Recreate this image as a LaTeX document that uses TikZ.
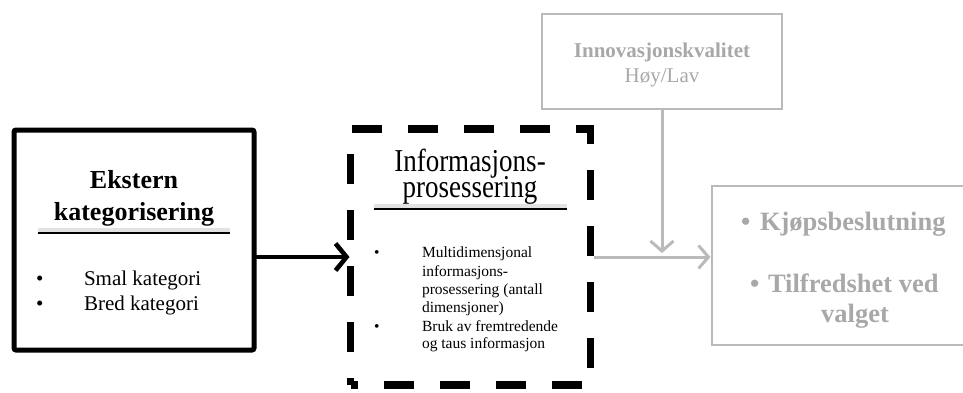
\documentclass[tikz,border=0pt]{standalone}
\usepackage{fontspec}
\setmainfont{Liberation Serif}
\usetikzlibrary{arrows.meta}
\definecolor{paleline}{RGB}{186,186,186}
\definecolor{paletext}{RGB}{168,168,168}
\tikzset{
  boxshape/.style={rectangle, inner sep=0pt, outer sep=0pt},
  solidbox/.style={boxshape, draw=black, line width=5pt, rounded corners=2pt},
  palebox/.style={boxshape, draw=paleline, line width=2.6pt},
  dashframe/.style={draw=black, line width=7.5pt, line join=miter,
    dash pattern=on 30pt off 26pt, dash phase=23pt},
  txt/.style={inner sep=0pt, outer sep=0pt, anchor=base},
  leftt/.style={txt, anchor=base west},
  rule/.style={line width=2pt},
  ruleshadow/.style={line width=4pt, draw=black!25, opacity=0.45},
  mainarrow/.style={line width=4.6pt, -{Straight Barb[length=11pt,width=27pt]}},
  palearrow/.style={draw=paleline, line width=3pt, -{Straight Barb[length=10pt,width=23pt]}},
}
\begin{document}
\begin{tikzpicture}[x=1pt,y=-1pt]
\useasboundingbox (0,0) rectangle (963,392);
\clip (0,0) rectangle (963,392);

% boxes
\node[solidbox, minimum width=240pt, minimum height=220pt] (ext) at (134,240) {};
\node[boxshape, minimum width=240pt, minimum height=256pt] (proc) at (470.5,257) {};
\draw[dashframe] (proc.south west) -- (proc.north west) -- (proc.north east)
  -- (proc.south east) -- cycle;
\node[palebox, minimum width=240pt, minimum height=95pt] (innov) at (662,61.5) {};
\node[palebox, minimum width=300pt, minimum height=159pt] (result) at (862,265.5) {};

% external categorisation
\node[txt, font=\fontsize{26}{32}\selectfont\bfseries] (e1) at (134,188) {Ekstern};
\node[txt, font=\fontsize{26}{32}\selectfont\bfseries] (e2) at (134,220) {kategorisering};
\coordinate (eu1) at (38,233);
\coordinate (eu2) at (230,233);
\draw[ruleshadow] ([yshift=3.5pt]eu1) -- ([yshift=3.5pt]eu2);
\draw[rule] (eu1) -- (eu2);
\node[leftt, font=\fontsize{21}{25}\selectfont] (eb1) at (36,285) {•};
\node[leftt, font=\fontsize{21}{25}\selectfont] (e3) at (84,285) {Smal kategori};
\node[leftt, font=\fontsize{21}{25}\selectfont] (eb2) at (36,310) {•};
\node[leftt, font=\fontsize{21}{25}\selectfont] (e4) at (84,310) {Bred kategori};

% information processing: tall, narrow two-line heading
\node[txt] (ptitle) at (470,171) {\scalebox{1}[1.18]{%
  \begin{minipage}[t]{220pt}\centering
  \fontsize{27}{22.5}\selectfont\lineskiplimit=-100pt
  Informasjons-\\prosessering
  \end{minipage}}};
\coordinate (pu1) at (374,209);
\coordinate (pu2) at (567,209);
\draw[ruleshadow] ([yshift=3.5pt]pu1) -- ([yshift=3.5pt]pu2);
\draw[rule] (pu1) -- (pu2);
\node[leftt, font=\fontsize{15.5}{18}\selectfont] (pb1) at (374,257) {•};
\node[leftt, font=\fontsize{15.5}{18}\selectfont] (p3) at (422,257) {Multidimensjonal};
\node[leftt, font=\fontsize{15.5}{18}\selectfont] (p4) at (422,276) {informasjons-};
\node[leftt, font=\fontsize{15.5}{18}\selectfont] (p5) at (422,294) {prosessering (antall};
\node[leftt, font=\fontsize{15.5}{18}\selectfont] (p6) at (422,312) {dimensjoner)};
\node[leftt, font=\fontsize{15.5}{18}\selectfont] (pb2) at (374,331) {•};
\node[leftt, font=\fontsize{15.5}{18}\selectfont] (p7) at (422,331) {Bruk av fremtredende};
\node[leftt, font=\fontsize{15.5}{18}\selectfont] (p8) at (422,348) {og taus informasjon};

% innovation quality
\node[txt, text=paletext, font=\fontsize{21}{25}\selectfont\bfseries] (i1) at (662,57) {Innovasjonskvalitet};
\node[txt, text=paletext, font=\fontsize{21}{25}\selectfont] (i2) at (662,82) {Høy/Lav};

% outcomes
\node[leftt, text=paletext, font=\fontsize{26.5}{30}\selectfont\bfseries] (rb1) at (741,230) {•};
\node[leftt, text=paletext, font=\fontsize{26.5}{30}\selectfont\bfseries] (r1) at (760,230) {Kjøpsbeslutning};
\node[leftt, text=paletext, font=\fontsize{26.5}{30}\selectfont\bfseries] (rb2) at (750,292) {•};
\node[leftt, text=paletext, font=\fontsize{26.5}{30}\selectfont\bfseries] (r2) at (768,292) {Tilfredshet ved};
\node[txt, text=paletext, font=\fontsize{26.5}{30}\selectfont\bfseries] (r3) at (855,322) {valget};

% connectors
\coordinate (drop) at (662,253);
\draw[mainarrow] (ext.east |- proc.west) -- ([xshift=-1pt]proc.west);
\draw[palearrow] ([xshift=3.5pt]proc.east) -- ([xshift=-1.5pt]result.west |- proc.east);
\draw[palearrow] (innov.south) -- (drop);
\end{tikzpicture}
\end{document}
